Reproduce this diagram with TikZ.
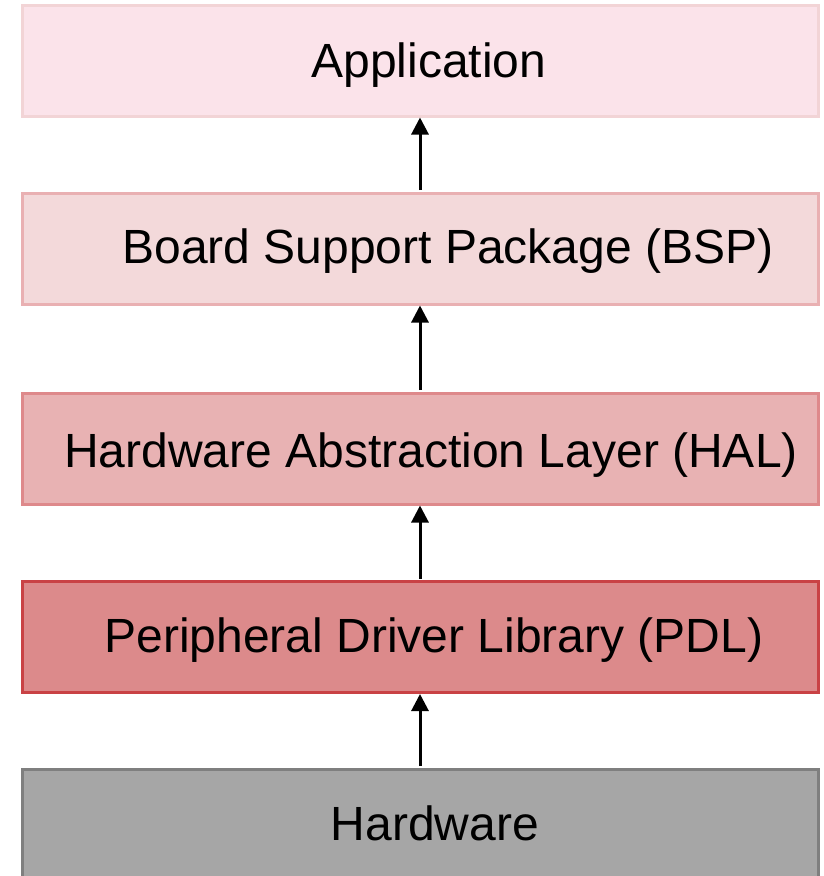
\documentclass[tikz,border=0pt]{standalone}
\usepackage{fontspec}
\setmainfont{Liberation Sans}
\usetikzlibrary{arrows.meta,calc}

\definecolor{appfill}{HTML}{FBE3EA}
\definecolor{appline}{HTML}{F2D4D6}
\definecolor{bspfill}{HTML}{F3D9DA}
\definecolor{bspline}{HTML}{E9B0B2}
\definecolor{halfill}{HTML}{E8B2B3}
\definecolor{halline}{HTML}{DE898B}
\definecolor{pdlfill}{HTML}{DC8A8B}
\definecolor{pdlline}{HTML}{C94245}
\definecolor{hwfill}{HTML}{A6A6A6}
\definecolor{hwline}{HTML}{7F7F7F}

\tikzset{
  layer/.style={draw, line width=3pt, rectangle, minimum width=796pt,
    minimum height=111pt, inner sep=0pt},
  layertext/.style={anchor=base, inner sep=0pt, font=\fontsize{48}{56}\selectfont},
  uparrow/.style={-{Triangle[length=17pt,width=17pt]}, line width=3pt, black,
    shorten <=1.5pt},
}

\begin{document}
\begin{tikzpicture}[x=1pt,y=-1pt]
  \useasboundingbox[fill=white] (0,0) rectangle (823,876);

  % stack of layers, top to bottom
  \node[layer, draw=appline, fill=appfill] (app) at (420,60.5)  {};
  \node[layer, draw=bspline, fill=bspfill] (bsp) at (420,248.5) {};
  \node[layer, draw=halline, fill=halfill] (hal) at (420,448.5) {};
  \node[layer, draw=pdlline, fill=pdlfill] (pdl) at (420,637)   {};
  \node[layer, draw=hwline,  fill=hwfill, minimum height=120pt] (hw) at (420,829) {};

  % labels
  \node[layertext] (appt) at (429,77)  {Application};
  \node[layertext] (bspt) at (448,263) {Board Support Package (BSP)};
  \node[layertext] (halt) at (431,467) {Hardware Abstraction Layer (HAL)};
  \node[layertext] (pdlt) at (434,652) {Peripheral Driver Library (PDL)};
  \node[layertext] (hwt)  at (435,840) {Hardware};

  % arrows from each layer to the one above
  \draw[uparrow] (hw.north)  -- (pdl.south);
  \draw[uparrow] (pdl.north) -- (hal.south);
  \draw[uparrow] (hal.north) -- (bsp.south);
  \draw[uparrow] (bsp.north) -- (app.south);
\end{tikzpicture}
\end{document}
